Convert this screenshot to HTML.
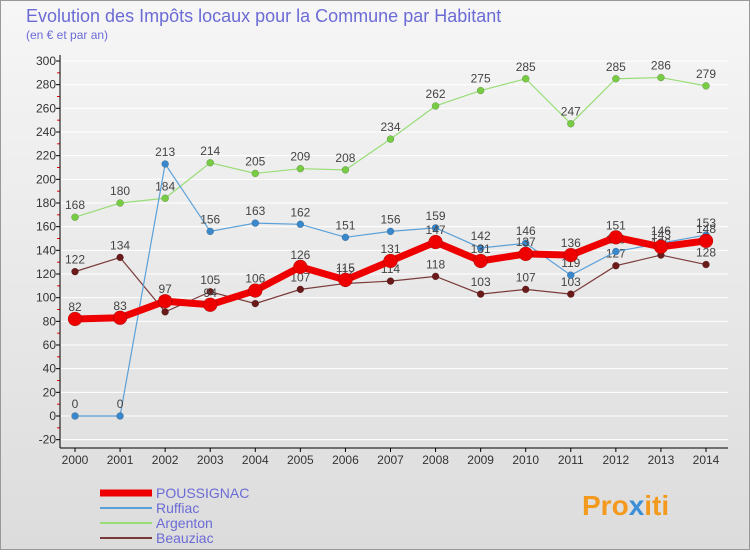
<!DOCTYPE html>
<html><head><meta charset="utf-8"><style>
body{margin:0;width:750px;height:550px;overflow:hidden;font-family:"Liberation Sans","DejaVu Sans",sans-serif}
</style></head><body>
<svg id="c" width="750" height="550" xmlns="http://www.w3.org/2000/svg">
<defs><linearGradient id="bg" x1="0" y1="0" x2="0" y2="1"><stop offset="0" stop-color="#f6f6f6"/><stop offset="1" stop-color="#dcdcdc"/></linearGradient></defs>
<rect x="0.5" y="0.5" width="749" height="549" fill="url(#bg)" stroke="#999"/>
<text x="26" y="22" font-size="18" fill="#6b6bd6">Evolution des Impôts locaux pour la Commune par Habitant</text>
<text x="26" y="39" font-size="12" fill="#6b6bd6">(en € et par an)</text>
<g id="grid"></g><g id="axes"></g><g id="series"></g><g id="legend"></g>
<text x="582" y="515" font-size="28" font-weight="bold" fill="#f39a1e">Pro<tspan fill="#3a8fd8">x</tspan>iti</text>
</svg>
<script>
const years=[2000,2001,2002,2003,2004,2005,2006,2007,2008,2009,2010,2011,2012,2013,2014];
const yTicks=[-20,0,20,40,60,80,100,120,140,160,180,200,220,240,260,280,300];
const poussignac=[82,83,97,94,106,126,115,131,147,131,137,136,151,143,148];
const ruffiac=[0,0,213,156,163,162,151,156,159,142,146,119,139,146,153];
const argenton=[168,180,184,214,205,209,208,234,262,275,285,247,285,286,279];
const beauziac=[122,134,88,105,95,107,112,114,118,103,107,103,127,136,128];
const NS="http://www.w3.org/2000/svg";
const X=i=>75+i*(706-75)/14;
const Y=v=>416-v*(416-61)/300;
function mk(t,a,p){const e=document.createElementNS(NS,t);for(const k in a)e.setAttribute(k,a[k]);p.appendChild(e);return e;}
const axes=document.getElementById('axes'),grid=document.getElementById('grid');
yTicks.forEach(v=>{
 const l=mk('line',{x1:60,x2:728,y1:Y(v),y2:Y(v),stroke:'#fff','stroke-width':1},grid);
 
 
 const t=mk('text',{x:56,y:Y(v)+4,'text-anchor':'end','font-size':12,fill:'#333'},axes);t.textContent=v;
 
 
 mk('line',{x1:56,x2:60,y1:Y(v),y2:Y(v),stroke:'#000'},axes);
 if(v<300){const m=mk('line',{x1:57,x2:60,y1:Y(v+10),y2:Y(v+10),stroke:'#e00'},axes);}
});
mk('line',{x1:60,x2:60,y1:55,y2:448,stroke:'#000'},axes);
mk('line',{x1:60,x2:728,y1:448,y2:448,stroke:'#000'},axes);
years.forEach((y,i)=>{
 mk('line',{x1:X(i),x2:X(i),y1:448,y2:452,stroke:'#000'},axes);
 const t=mk('text',{x:X(i),y:464,'text-anchor':'middle','font-size':12,fill:'#333'},axes);t.textContent=y;
 
 
});
const ser=document.getElementById('series');
function draw(name,vals,col,w,r,dot){
 const g=mk('g',{},ser);
 
 
 mk('polyline',{points:vals.map((v,i)=>X(i)+','+Y(v)).join(' '),fill:'none',stroke:col,'stroke-width':w},g);
 vals.forEach((v,i)=>{
  const c=mk('circle',{cx:X(i),cy:Y(v),r:r,fill:dot,stroke:'rgba(0,0,0,0.3)','stroke-width':0.5},g);
  
  
  const t=mk('text',{x:X(i),y:Y(v)-8,'text-anchor':'middle','font-size':12,fill:'#444'},g);t.textContent=v;
  
  
 });
}
draw('argenton',argenton,'#99dd77',1.2,3.5,'#77cc44');
draw('beauziac',beauziac,'#7a3a3a',1.2,3.5,'#6b1a1a');
draw('ruffiac',ruffiac,'#5aa0d8',1.2,3.5,'#3a88cc');
draw('poussignac',poussignac,'#ee0000',7,7,'#ee0000');
const lg=document.getElementById('legend');
const L=[['POUSSIGNAC','#ee0000',7],['Ruffiac','#5aa0d8',2],['Argenton','#99dd77',2],['Beauziac','#7a3a3a',2]];
L.forEach((e,i)=>{
 const y=493+i*15;
 const l=mk('line',{x1:100,x2:152,y1:y,y2:y,stroke:e[1],'stroke-width':e[2]},lg);
 
 
 const t=mk('text',{x:156,y:y+5,'font-size':14,fill:'#6b6bd6'},lg);t.textContent=e[0];
 
 
});
</script>
</body></html>
